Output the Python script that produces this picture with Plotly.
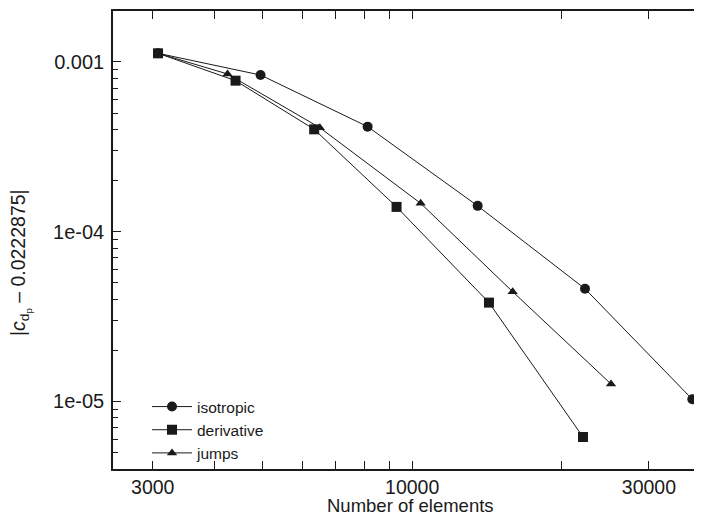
import math
import plotly.graph_objects as go

# Data
iso_x = [3075, 4948, 8132, 13550, 22300, 36690]
iso_y = [1.125e-3, 8.38e-4, 4.16e-4, 1.42e-4, 4.61e-5, 1.029e-5]

der_x = [3075, 4406, 6346, 9301, 14280, 22090]
der_y = [1.125e-3, 7.76e-4, 4.01e-4, 1.40e-4, 3.82e-5, 6.17e-6]

jmp_x = [3075, 4245, 6515, 10400, 15940, 25160]
jmp_y = [1.125e-3, 8.50e-4, 4.10e-4, 1.47e-4, 4.43e-5, 1.266e-5]

x_tickvals = [3000, 10000, 30000]
x_ticktext = ["3000", "10000", "30000"]
x_minor = [4000, 5000, 6000, 7000, 8000, 9000, 20000]

y_tickvals = [1e-5, 1e-4, 1e-3]
y_ticktext = ["1e-05", "1e-04", "0.001"]
y_minor = [5e-6, 6e-6, 7e-6, 8e-6, 9e-6,
           2e-5, 3e-5, 4e-5, 5e-5, 6e-5, 7e-5, 8e-5, 9e-5,
           2e-4, 3e-4, 4e-4, 5e-4, 6e-4, 7e-4, 8e-4, 9e-4]

x_title = "Number of elements"
y_title = "|<i>c</i><sub>d<sub>p</sub></sub> – 0.0222875|"

FONT = "Liberation Sans, Arial, Helvetica, sans-serif"
INK = "#1a1a1a"

# page body has an 8px margin; figure sized to fit the 702x523 window
W, H = 686, 507
ML, MT, MB, MR = 105, 3, 46, 0
PW, PH = W - ML - MR, H - MT - MB

fig = go.Figure()
fig.add_trace(go.Scatter(x=iso_x, y=iso_y, mode="lines+markers", name="isotropic",
                         line=dict(color=INK, width=1),
                         marker=dict(symbol="circle", size=10, color=INK)))
fig.add_trace(go.Scatter(x=der_x, y=der_y, mode="lines+markers", name="derivative",
                         line=dict(color=INK, width=1),
                         marker=dict(symbol="square", size=10, color=INK)))
fig.add_trace(go.Scatter(x=jmp_x, y=jmp_y, mode="lines+markers", name="jumps",
                         line=dict(color=INK, width=1),
                         marker=dict(symbol="triangle-up", size=9, color=INK)))

fig.update_layout(
    width=W, height=H,
    margin=dict(l=ML, r=MR, t=MT, b=MB, autoexpand=False),
    paper_bgcolor="white", plot_bgcolor="white",
    font=dict(family=FONT, color=INK, size=20),
    showlegend=True,
    legend=dict(x=(139 - ML) / PW, y=(461 - 382) / PH, xanchor="left", yanchor="top",
                bgcolor="rgba(0,0,0,0)", borderwidth=0, itemwidth=40,
                font=dict(family=FONT, size=15.5, color=INK), tracegroupgap=0),
    annotations=[
        dict(text=x_title, xref="paper", yref="paper",
             x=(402 - ML) / PW, y=-(MB - 1) / PH, xanchor="center", yanchor="bottom",
             yshift=-4, showarrow=False, font=dict(family=FONT, size=18.5, color=INK)),
        dict(text=y_title, xref="paper", yref="paper", textangle=-90,
             x=(13 - ML) / PW, y=(461 - 255) / PH, xanchor="center", yanchor="middle",
             showarrow=False, font=dict(family=FONT, size=19.5, color=INK)),
    ],
)
fig.update_xaxes(
    type="log", range=[math.log10(2495), 4 + (686 - 404.3) / 496],
    showgrid=False, zeroline=False,
    showline=True, linecolor=INK, linewidth=1.5, mirror="ticks",
    ticks="inside", ticklen=8, tickwidth=1.2, tickcolor=INK,
    tickmode="array", tickvals=x_tickvals, ticktext=x_ticktext,
    ticklabelstandoff=0, tickfont=dict(size=19.5),
    minor=dict(tickmode="array", tickvals=x_minor, ticks="inside", ticklen=8,
               tickwidth=1.2, tickcolor=INK, showgrid=False),
    automargin=False,
)
fig.update_yaxes(
    type="log", range=[-5.3984, -2.6995],
    showgrid=False, zeroline=False,
    showline=True, linecolor=INK, linewidth=1.5, mirror=False,
    ticks="inside", ticklen=8, tickwidth=1.2, tickcolor=INK,
    tickmode="array", tickvals=y_tickvals, ticktext=y_ticktext,
    ticklabelstandoff=3,
    minor=dict(tickmode="array", tickvals=y_minor, ticks="inside", ticklen=5,
               tickwidth=1.2, tickcolor=INK, showgrid=False),
    automargin=False,
)

fig.write_html("out.html")
